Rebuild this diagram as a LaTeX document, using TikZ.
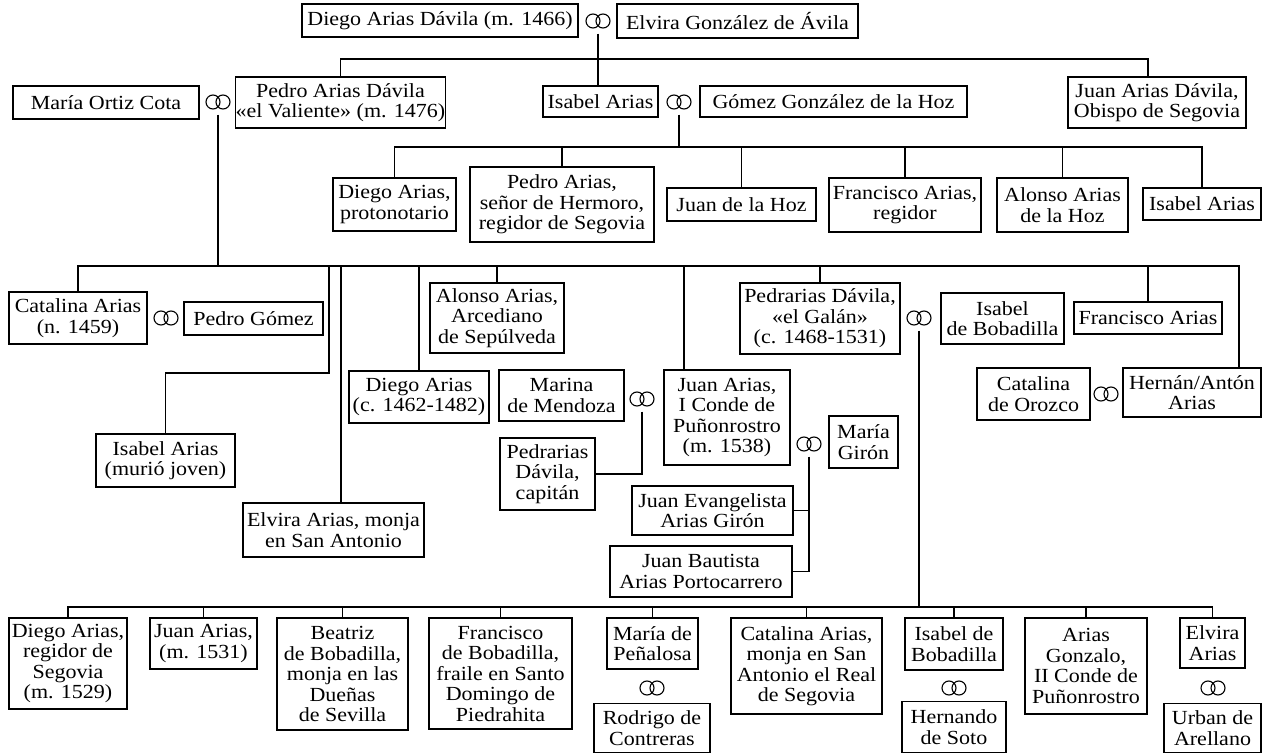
\documentclass[tikz,border=0pt]{standalone}
\usepackage{fontspec}
\setmainfont{Liberation Serif}[FakeStretch=1.1]

\begin{document}
\begin{tikzpicture}[
  x=1pt, y=-1pt,
  line width=1.1pt,
  box/.style={draw, align=center, inner sep=0pt, font=\fontsize{20}{20.5}\selectfont},
  wed/.style={inner sep=0pt, minimum width=25pt, minimum height=24pt},
  ring/.style={line width=1.1pt}
]
\useasboundingbox (0,0) rectangle (1262,754);

\node[box, minimum width=276pt, minimum height=33pt] (dad) at (440,20.5) {Diego Arias Dávila (m. 1466)};
\node[box, minimum width=241pt, minimum height=34pt] (elvira) at (737.5,21) {Elvira González de Ávila};
\node[wed] (w1) at (598,21) {};
\node[box, minimum width=207pt, minimum height=51pt] (pedroad) at (340.5,102.5) {Pedro Arias Dávila\\«el Valiente» (m. 1476)};
\node[box, minimum width=115pt, minimum height=31pt] (isabel) at (600.5,101.5) {Isabel Arias};
\node[box, minimum width=267pt, minimum height=31pt] (gomez) at (833.5,101.5) {Gómez González de la Hoz};
\node[wed] (w3) at (679,102) {};
\node[box, minimum width=178pt, minimum height=51pt] (obispo) at (1157,102.5) {Juan Arias Dávila,\\Obispo de Segovia};
\node[box, minimum width=186pt, minimum height=33pt] (mariaoc) at (106,102.5) {María Ortiz Cota};
\node[wed] (w2) at (218,102) {};

\node[box, minimum width=123pt, minimum height=53pt] (hoz1) at (394.5,204.5) {Diego Arias,\\protonotario};
\node[box, minimum width=184pt, minimum height=75pt] (hoz2) at (562,204.5) {Pedro Arias,\\señor de Hermoro,\\regidor de Segovia};
\node[box, minimum width=149pt, minimum height=33pt] (hoz3) at (741.5,204.5) {Juan de la Hoz};
\node[box, minimum width=152pt, minimum height=54pt] (hoz4) at (905,205) {Francisco Arias,\\regidor};
\node[box, minimum width=131pt, minimum height=54pt] (hoz5) at (1062.5,205) {Alonso Arias\\de la Hoz};
\node[box, minimum width=118pt, minimum height=32pt] (hoz6) at (1202,204) {Isabel Arias};

\node[box, minimum width=138pt, minimum height=52pt] (catalina) at (78,318) {Catalina Arias\\(n. 1459)};
\node[wed] (w4) at (166,318) {};
\node[box, minimum width=139pt, minimum height=33pt] (pgomez) at (253.5,318.5) {Pedro Gómez};
\node[box, minimum width=139pt, minimum height=53pt] (isabelmj) at (165.5,460.5) {Isabel Arias\\(murió joven)};
\node[box, minimum width=181pt, minimum height=54pt] (elviram) at (333.5,530) {Elvira Arias, monja\\en San Antonio};
\node[box, minimum width=140pt, minimum height=52pt] (diegoc) at (419,397) {Diego Arias\\(c. 1462-1482)};
\node[box, minimum width=134pt, minimum height=70pt] (alonso) at (497,318) {Alonso Arias,\\Arcediano\\de Sepúlveda};
\node[box, minimum width=125pt, minimum height=51pt] (marina) at (561.5,395.5) {Marina\\de Mendoza};
\node[wed] (w5) at (642,399) {};
\node[box, minimum width=95pt, minimum height=72pt] (pedcap) at (547.5,474) {Pedrarias\\Dávila,\\capitán};
\node[box, minimum width=126pt, minimum height=95pt] (juanar) at (727,417.5) {Juan Arias,\\I Conde de\\Puñonrostro\\(m. 1538)};
\node[box, minimum width=69pt, minimum height=52pt] (mariagiron) at (863.5,442) {María\\Girón};
\node[wed] (w8) at (809,444) {};
\node[box, minimum width=161pt, minimum height=49pt] (juanev) at (712.5,510.5) {Juan Evangelista\\Arias Girón};
\node[box, minimum width=182pt, minimum height=51pt] (juanbau) at (701,571.5) {Juan Bautista\\Arias Portocarrero};
\node[box, minimum width=160pt, minimum height=71pt] (pedgalan) at (820,318.5) {Pedrarias Dávila,\\«el Galán»\\(c. 1468-1531)};
\node[wed] (w6) at (919,318) {};
\node[box, minimum width=123pt, minimum height=51pt] (isabelbob) at (1002.5,318.5) {Isabel\\de Bobadilla};
\node[box, minimum width=148pt, minimum height=32pt] (francar) at (1148,318) {Francisco Arias};
\node[box, minimum width=113pt, minimum height=52pt] (catorozco) at (1033.5,394) {Catalina\\de Orozco};
\node[wed] (w7) at (1106,394) {};
\node[box, minimum width=138pt, minimum height=49pt] (hernan) at (1192,392.5) {Hernán/Antón\\Arias};

\node[box, minimum width=118pt, minimum height=91pt] (diegor) at (68,663.5) {Diego Arias,\\regidor de\\Segovia\\(m. 1529)};
\node[box, minimum width=107pt, minimum height=51pt] (juanm) at (203.5,643.5) {Juan Arias,\\(m. 1531)};
\node[box, minimum width=131pt, minimum height=112pt] (beatriz) at (342.5,674) {Beatriz\\de Bobadilla,\\monja en las\\Dueñas\\de Sevilla};
\node[box, minimum width=143pt, minimum height=111pt] (francb) at (500.5,673.5) {Francisco\\de Bobadilla,\\fraile en Santo\\Domingo de\\Piedrahita};
\node[box, minimum width=91pt, minimum height=51pt] (mariap) at (652.5,643.5) {María de\\Peñalosa};
\node[wed] (w9) at (652,688) {};
\node[box, minimum width=116pt, minimum height=49pt] (rodrigo) at (652,728) {Rodrigo de\\Contreras};
\node[box, minimum width=151pt, minimum height=96pt] (catm) at (806.5,666) {Catalina Arias,\\monja en San\\Antonio el Real\\de Segovia};
\node[box, minimum width=98pt, minimum height=52pt] (isabelb2) at (954,644) {Isabel de\\Bobadilla};
\node[wed] (w10) at (954,688) {};
\node[box, minimum width=104pt, minimum height=51pt] (soto) at (954,727) {Hernando\\de Soto};
\node[box, minimum width=122pt, minimum height=96pt] (ariasg) at (1086,666) {Arias\\Gonzalo,\\II Conde de\\Puñonrostro};
\node[box, minimum width=65pt, minimum height=50pt] (elviraa) at (1212.5,643) {Elvira\\Arias};
\node[wed] (w11) at (1213,688) {};
\node[box, minimum width=97pt, minimum height=49pt] (urban) at (1212.5,728) {Urban de\\Arellano};

\foreach \i in {1,...,11}
  \draw[ring] ([xshift=-5pt]w\i.center) circle[radius=7pt] ([xshift=5pt]w\i.center) circle[radius=7pt];

\coordinate (b1) at (0,59);
\coordinate (b3) at (0,147);
\coordinate (b2) at (0,266);
\coordinate (b4) at (0,607);
\coordinate (ob) at ([xshift=-9pt]obispo.north);
\coordinate (el) at ([xshift=7.5pt]elviram.north);
\coordinate (ja) at ([xshift=-43pt]juanar.north);
\coordinate (hn) at ([xshift=47pt]hernan.north);
\coordinate (k1) at (329,373);

\draw (w1.south) -- (w1.south |- isabel.north);
\draw (pedroad.north) -- (pedroad.north |- b1) -| (ob);

\draw (w3.south) -- (w3.south |- b3);
\draw (hoz1.north) -- (hoz1.north |- b3) -- (hoz6.north |- b3) -- (hoz6.north);
\foreach \n in {hoz2,hoz3,hoz4,hoz5}
  \draw (\n.north) -- (\n.north |- b3);

\draw (w2.south) -- (w2.south |- b2);
\draw (catalina.north) -- (catalina.north |- b2) -- (hn |- b2) -- (hn);
\foreach \n in {diegoc,alonso,pedgalan,francar}
  \draw (\n.north) -- (\n.north |- b2);
\draw (el) -- (el |- b2);
\draw (ja) -- (ja |- b2);
\draw (k1 |- b2) -- (k1) -| (isabelmj.north);

\draw (w5.south) |- (pedcap.east);
\draw (w8.south) |- (juanbau.east);
\draw (juanev.east) -- (juanev.east -| w8.south);

\draw (w6.south) -- (w6.south |- b4);
\draw (diegor.north) -- (diegor.north |- b4) -- (elviraa.north |- b4) -- (elviraa.north);
\foreach \n in {juanm,beatriz,francb,mariap,catm,isabelb2,ariasg}
  \draw (\n.north) -- (\n.north |- b4);
\end{tikzpicture}
\end{document}
